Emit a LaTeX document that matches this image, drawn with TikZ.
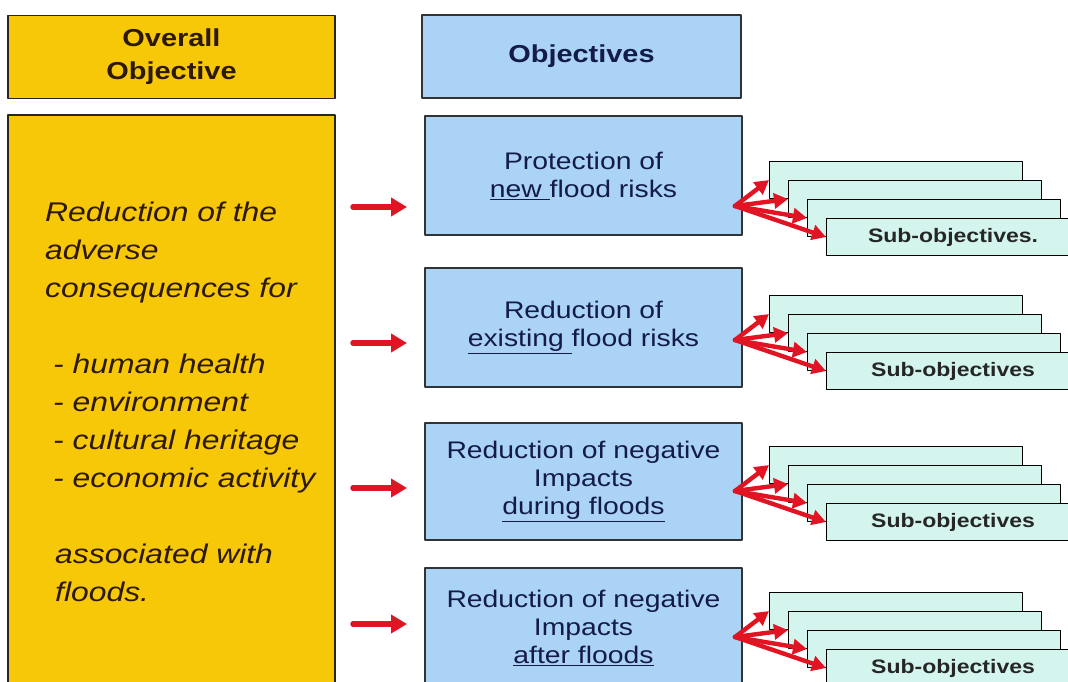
\documentclass[tikz,border=0pt]{standalone}
\usepackage{fontspec}
\setmainfont{Liberation Sans}[FakeStretch=1.18]
\usetikzlibrary{arrows.meta}

\definecolor{overallgold}{RGB}{247,200,8}
\definecolor{objblue}{RGB}{170,211,246}
\definecolor{subcyan}{RGB}{212,245,238}
\definecolor{arrowred}{RGB}{225,20,35}
\definecolor{navytext}{RGB}{20,28,70}
\definecolor{browntext}{RGB}{45,25,0}

\tikzset{
  goldbox/.style={draw=black!85,line width=1.6pt,fill=overallgold,inner sep=0pt,minimum width=327pt},
  bluebox/.style={draw=black!80,line width=1.6pt,fill=objblue,inner sep=0pt,minimum width=317pt,
    text=navytext,align=center,font=\fontsize{24}{28}\selectfont},
  subbox/.style={draw=black,line width=1.1pt,fill=subcyan,minimum width=253pt,minimum height=37pt,
    inner sep=0pt,font=\bfseries\fontsize{19.5}{22}\selectfont,text=black!85},
  redarrow/.style={draw=arrowred,line width=5.5pt,-{Triangle[length=16pt,width=18pt]}},
  subarrow/.style={draw=arrowred,line width=4.4pt,-{Triangle[length=14pt,width=15pt]}},
}

\begin{document}
\begin{tikzpicture}[x=1pt,y=-1pt,line cap=round,line join=round]
  \useasboundingbox (0,0) rectangle (1068,682);

  % headers
  \node[goldbox,minimum height=83pt,align=center,text=browntext,
    font=\bfseries\fontsize{24.5}{33}\selectfont] (hdoverall) at (171.5,57) {Overall\\Objective};
  \node[bluebox,minimum width=319pt,minimum height=83pt,
    font=\bfseries\fontsize{24.5}{28}\selectfont] (hdobj) at (581.5,56.5) {Objectives};

  % overall objective
  \node[goldbox,minimum height=585pt] (overall) at (171.5,407.5) {};
  \node[anchor=west,align=left,inner sep=0pt,text=browntext,
    font=\itshape\fontsize{27}{38}\selectfont] (goals) at (45,402)
    {Reduction of the\\adverse\\consequences for\\[38pt]
     \hspace*{8pt}- human health\\\hspace*{8pt}- environment\\
     \hspace*{8pt}- cultural heritage\\\hspace*{8pt}- economic activity\\[38pt]
     \hspace*{10pt}associated with\\\hspace*{10pt}floods.};

  % objectives
  \node[bluebox,minimum height=119pt] (obj1) at (583.5,175.5)
    {Protection of\\\underline{new\ }flood risks};
  \node[bluebox,minimum height=119pt] (obj2) at (583.5,327.5)
    {Reduction of\\\underline{existing\ }flood risks};
  \node[bluebox,minimum height=117pt] (obj3) at (583.5,481.5)
    {Reduction of negative\\Impacts\\\underline{during floods}};
  \node[bluebox,minimum height=119pt] (obj4) at (583.5,627.5)
    {Reduction of negative\\Impacts\\\underline{after floods}};

  % arrows into the objectives
  \foreach \k/\y in {1/207,2/343,3/488,4/624}{
    \coordinate (in\k) at (353,\y);
    \draw[redarrow] (in\k) -- ++(54,0);
  }

  % sub-objective stacks
  \foreach \k/\t/\lab in {1/161/{Sub-objectives.},2/295/Sub-objectives,3/446/Sub-objectives,4/592/Sub-objectives}{
    \foreach \j in {0,...,3}
      \node[subbox,anchor=north west] (s\k\j) at ({769+19*\j},{\t+19*\j}) {\ifnum\j=3 \lab\fi};
    \coordinate (src\k) at (735,\t+45);
    \foreach \j in {0,...,3}
      \draw[subarrow] (src\k) -- (s\k\j.west);
  }
\end{tikzpicture}
\end{document}
